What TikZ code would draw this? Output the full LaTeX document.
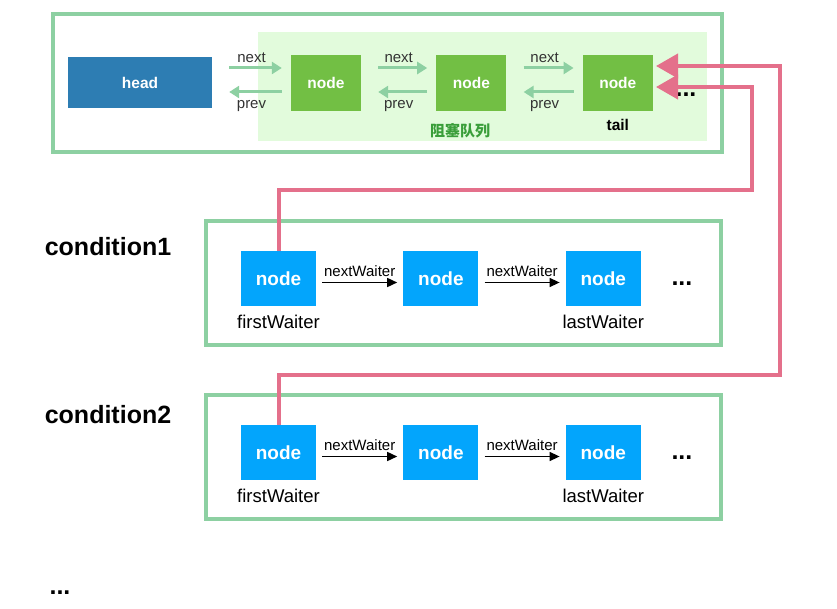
\documentclass[tikz,border=0pt]{standalone}
\usepackage{fontspec}
\setmainfont{Liberation Sans}
\newfontfamily\cjkfont{Noto Sans CJK SC}
\usepackage{tikz}
\usetikzlibrary{arrows.meta, positioning}

\definecolor{framegreen}{HTML}{8DD0A2}
\definecolor{queuebg}{HTML}{E2FBDC}
\definecolor{headblue}{HTML}{2D7DB3}
\definecolor{nodegreen}{HTML}{72BF44}
\definecolor{waitblue}{HTML}{03A5FC}
\definecolor{linkpink}{HTML}{E4708B}
\definecolor{textgreen}{HTML}{3A9E3A}

\begin{document}
\begin{tikzpicture}[x=1pt, y=-1pt,
	frame/.style={draw=framegreen, line width=4pt},
	qnode/.style={fill=nodegreen, text=white, font=\bfseries\fontsize{15.5}{18}\selectfont, minimum width=70pt, minimum height=56pt, inner sep=0pt},
	wnode/.style={fill=waitblue, text=white, font=\bfseries\fontsize{19}{22}\selectfont, minimum width=75pt, minimum height=55pt, inner sep=0pt},
	qarrow/.style={draw=framegreen, line width=3pt, -{Triangle[length=10pt, width=12pt]}},
	warrow/.style={draw=black, line width=1.5pt, -{Triangle[length=10pt, width=9pt]}, shorten <=6pt, shorten >=6pt},
	waitline/.style={draw=linkpink, line width=4pt, -{Triangle[length=22pt, width=24pt]}},
	lbl/.style={font=\fontsize{15}{18}\selectfont, text=black!80, inner sep=1pt},
	wlbl/.style={font=\fontsize{18.5}{22}\selectfont, inner sep=0pt},
	cond/.style={font=\bfseries\fontsize{25}{30}\selectfont},
	dots/.style={font=\bfseries\fontsize{25}{26}\selectfont}
]
\useasboundingbox (0,0) rectangle (837,609);

% blocking queue
\draw[frame] (53,14) rectangle (722,152);
\fill[queuebg] (258,32) rectangle (707,141);

\node[fill=headblue, text=white, font=\bfseries\fontsize{15.5}{18}\selectfont, minimum width=144pt, minimum height=51pt, inner sep=0pt] (head) at (140,83) {head};
\node[qnode] (q1) at (326,83) {node};
\node[qnode, right=75pt of q1] (q2) {node};
\node[qnode, right=76pt of q2] (tail) {node};
\node[font=\bfseries\fontsize{15.5}{18}\selectfont, below=5pt of tail] (tailname) {tail};
\node[dots, anchor=base] (qdots) at (686,97) {...};
\node[font=\cjkfont\bfseries\fontsize{15}{18}\selectfont, text=textgreen] (qname) at (460,131) {阻塞队列};

\foreach \a/\b in {head/q1, q1/q2, q2/tail} {
	\draw[qarrow, shorten <=17pt, shorten >=9pt] ([yshift=15pt]\a.east) -- node[lbl, above=3pt] {next} ([yshift=15pt]\b.west); % next
	\draw[qarrow, shorten <=9pt, shorten >=17pt] ([yshift=-9pt]\b.west) -- node[lbl, below=6pt] {prev} ([yshift=-9pt]\a.east); % prev
}

% condition queues
\node[cond] (cond1) at (108,247) {condition1};
\node[cond] (cond2) at (108,415) {condition2};
\node[dots, anchor=base] (moredots) at (60,594) {...};

\draw[frame] (206,221) rectangle (721,345);
\draw[frame] (206,395) rectangle (721,519);

\foreach \r/\y in {1/278.5, 2/452.5} {
	\node[wnode] (c\r a) at (278.5,\y) {node};
	\node[wnode, right=87pt of c\r a] (c\r b) {node};
	\node[wnode, right=87pt of c\r b] (c\r c) {node};
	\node[wlbl, below=9pt of c\r a] (c\r first) {firstWaiter};
	\node[wlbl, below=9pt of c\r c] (c\r last) {lastWaiter};
	\node[dots, right=27pt of c\r c, yshift=-5pt] (c\r dots) {...};
	\draw[warrow] ([yshift=-4pt]c\r a.east) -- node[font=\fontsize{15}{18}\selectfont, above=2pt] {nextWaiter} ([yshift=-4pt]c\r b.west);
	\draw[warrow] ([yshift=-4pt]c\r b.east) -- node[font=\fontsize{15}{18}\selectfont, above=2pt] {nextWaiter} ([yshift=-4pt]c\r c.west);
}

% firstWaiter -> tail
\coordinate (r1) at (752,190);
\coordinate (r2) at (780,375);
\coordinate (in1) at (656,87);
\coordinate (in2) at (656,66);
\draw[waitline] (c1a.north) |- (r1) |- (in1);
\draw[waitline] (c2a.north) |- (r2) |- (in2);

\end{tikzpicture}
\end{document}
